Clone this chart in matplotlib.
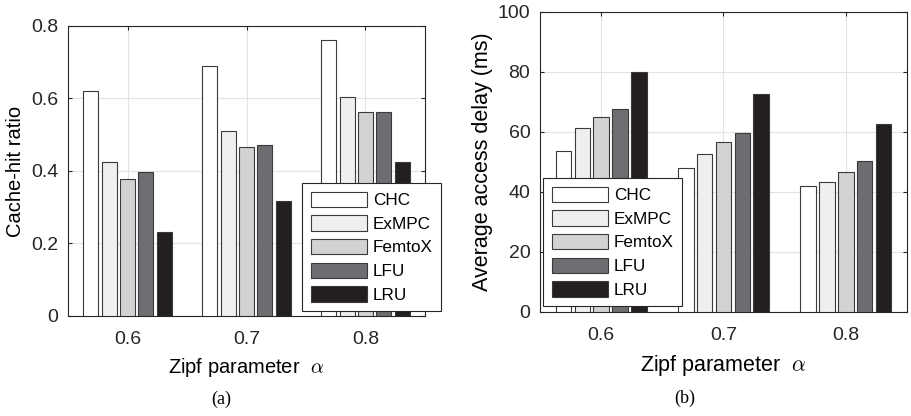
import numpy as np
import matplotlib
matplotlib.use('Agg')
import matplotlib.pyplot as plt

plt.rcParams['font.family'] = ['Liberation Sans', 'DejaVu Sans']
plt.rcParams['mathtext.fontset'] = 'cm'

# =============================================================================
# DATA
# =============================================================================
ALPHAS   = ['0.6', '0.7', '0.8']
SCHEMES  = ['CHC', 'ExMPC', 'FemtoX', 'LFU', 'LRU']
COLORS   = ['#ffffff', '#eef0ef', '#d1d2d4', '#6d6e71', '#231f20']

hit_chc    = [0.621, 0.690, 0.760]
hit_exmpc  = [0.425, 0.510, 0.605]
hit_femtox = [0.378, 0.465, 0.562]
hit_lfu    = [0.398, 0.472, 0.562]
hit_lru    = [0.233, 0.317, 0.425]

delay_chc    = [53.8, 48.0, 42.0]
delay_exmpc  = [61.2, 52.8, 43.3]
delay_femtox = [65.0, 56.5, 46.7]
delay_lfu    = [67.5, 59.7, 50.3]
delay_lru    = [80.0, 72.6, 62.7]

hit_ratio = [hit_chc, hit_exmpc, hit_femtox, hit_lfu, hit_lru]
delay     = [delay_chc, delay_exmpc, delay_femtox, delay_lfu, delay_lru]

# =============================================================================
# PLOT
# =============================================================================
BAR_W  = 0.126
PITCH  = 0.154
EDGE   = '#3a3a3a'
GRID_C = '#e3e3e3'


def grouped_bars(ax, series, ylim, yticks, ylabel, fs, ylab_x):
    x = np.arange(1, len(ALPHAS) + 1)
    for i, (vals, col, name) in enumerate(zip(series, COLORS, SCHEMES)):
        ax.bar(x + (i - 2) * PITCH, vals, BAR_W, color=col, edgecolor=EDGE,
               linewidth=0.8, label=name, zorder=3)
    ax.set_xlim(0.5, 3.5)
    ax.set_ylim(*ylim)
    ax.set_xticks(x)
    ax.set_xticklabels(ALPHAS)
    ax.set_yticks(yticks)
    ax.set_yticklabels([f'{t:g}' for t in yticks])
    ax.set_xlabel(r'Zipf parameter  $\alpha$', fontsize=fs)
    ax.set_ylabel(ylabel, fontsize=fs)
    ax.xaxis.set_label_coords(0.5, -0.138)
    ax.yaxis.set_label_coords(ylab_x, 0.5)   # right edge of rotated label
    ax.grid(True, color=GRID_C, lw=0.8, zorder=0)
    ax.tick_params(direction='in', length=3, labelsize=14, colors='#262626',
                   top=True, right=True)
    ax.tick_params(axis='x', pad=11)
    ax.tick_params(axis='y', pad=7)
    for s in ax.spines.values():
        s.set_color('#262626')
        s.set_linewidth(0.8)


fig = plt.figure(figsize=(9.12, 4.16), dpi=100)

ax1 = fig.add_axes([0.0746, 0.2404, 0.3914, 0.6971])
grouped_bars(ax1, hit_ratio, (0, 0.8), [0, 0.2, 0.4, 0.6, 0.8],
             'Cache-hit ratio', 14.5, -0.12)

ax2 = fig.add_axes([0.5921, 0.2500, 0.4024, 0.7212])
grouped_bars(ax2, delay, (0, 100), [0, 20, 40, 60, 80, 100],
             'Average access delay (ms)', 15.5, -0.128)

leg_kw = dict(fontsize=12.3, handlelength=3.3, handleheight=1.0, labelspacing=0.42,
              handletextpad=0.35, borderpad=0.5, fancybox=False, framealpha=1,
              edgecolor='#262626', borderaxespad=0)
leg1 = ax1.legend(loc='upper left', bbox_to_anchor=(302 / 912, 1 - 183 / 416),
                  bbox_transform=fig.transFigure, **leg_kw)
leg1.get_frame().set_linewidth(0.8)
leg1.set_zorder(5)
leg2 = ax2.legend(loc='upper left', bbox_to_anchor=(543 / 912, 1 - 178 / 416),
                  bbox_transform=fig.transFigure, **leg_kw)
leg2.get_frame().set_linewidth(0.8)
leg2.set_zorder(5)

fig.text(221 / 912, 1 - 399 / 416, '(a)', family='Liberation Serif',
         fontsize=13, ha='center', va='center')
fig.text((460 + 225) / 912, 1 - 398 / 416, '(b)', family='Liberation Serif',
         fontsize=13, ha='center', va='center')

fig.savefig('out.png', dpi=100)
